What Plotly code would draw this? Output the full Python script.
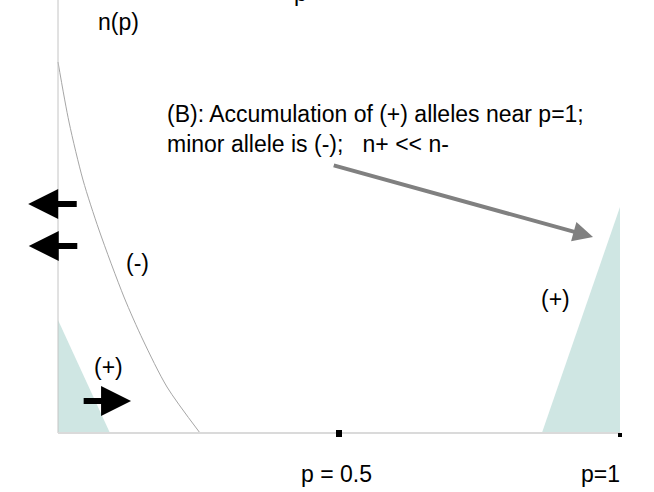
import plotly.graph_objects as go

# curve n(p) for the (-) allele
curve_p = [0.0, 0.0196, 0.0445, 0.073, 0.1174, 0.1512, 0.194, 0.2527]
curve_n = [3.71, 3.11, 2.53, 2.03, 1.36, 0.93, 0.46, 0.0]

# shaded (+) allele densities
left_p = [0.0, 0.0, 0.0925, 0.0]
left_n = [0.0, 1.13, 0.0, 0.0]
right_p = [0.861, 1.0, 1.0, 0.861]
right_n = [0.0, 2.26, 0.0, 0.0]

tick_p = [0.5, 1.0]
tick_labels = ["p = 0.5", "p=1"]

FONT = "Liberation Sans, Arial, sans-serif"
SHADE = "#cfe6e3"

fig = go.Figure()

fig.add_trace(go.Scatter(x=left_p, y=left_n, fill="toself", fillcolor=SHADE,
                         mode="lines", line=dict(width=0), hoverinfo="skip"))
fig.add_trace(go.Scatter(x=right_p, y=right_n, fill="toself", fillcolor=SHADE,
                         mode="lines", line=dict(width=0), hoverinfo="skip"))
fig.add_trace(go.Scatter(x=curve_p, y=curve_n, mode="lines",
                         line=dict(color="#a6a6a6", width=1, shape="spline", smoothing=0.8),
                         hoverinfo="skip"))

# axes drawn by hand
fig.add_shape(type="line", x0=0, x1=0, y0=0, y1=4.4, line=dict(color="#c4c4c4", width=1))
fig.add_shape(type="line", x0=0, x1=1, y0=0, y1=0, line=dict(color="#dadada", width=2))
fig.add_shape(type="rect", x0=0.4947, x1=0.5053, y0=-0.04, y1=0.03,
              fillcolor="black", line_width=0)
fig.add_shape(type="rect", x0=0.9964, x1=1.0036, y0=-0.04, y1=0.0,
              fillcolor="black", line_width=0)

ann = []
for p, lab, dx in zip(tick_p, tick_labels, [-0.005, -0.035]):
    ann.append(dict(x=p + dx, y=-0.41, text=lab, showarrow=False))

ann += [
    dict(x=0.107, y=4.11, text="n(p)", showarrow=False),
    # clipped text at the very top edge
    dict(x=0.4318, y=1.0, yref="paper", yanchor="middle", yshift=7, text="p",
         showarrow=False),
    dict(x=0.191, y=3.04, xanchor="left", align="left", showarrow=False,
         text="(B): Accumulation of (+) alleles near p=1;<br>minor allele is (-);   n+ << n-"),
    dict(x=0.142, y=1.70, text="(-)", showarrow=False),
    dict(x=0.089, y=0.66, text="(+)", showarrow=False),
    dict(x=0.886, y=1.34, text="(+)", showarrow=False),
]

arrows = [
    # (tip_p, tip_n, tail_p, tail_n, color, width)
    (0.952, 1.96, 0.488, 2.68, "#808080", 4),
    (-0.053, 2.29, 0.036, 2.29, "black", 6),
    (-0.052, 1.87, 0.037, 1.87, "black", 6),
    (0.130, 0.32, 0.043, 0.32, "black", 6),
]
for tp, tn, ap, an, col, w in arrows:
    ann.append(dict(x=tp, y=tn, ax=ap, ay=an, axref="x", ayref="y", xref="x", yref="y",
                    showarrow=True, arrowhead=2, arrowsize=1.0, arrowwidth=w,
                    arrowcolor=col, standoff=0, text=""))

fig.update_layout(
    width=654, height=492,
    margin=dict(l=0, r=0, t=0, b=0, pad=0),
    paper_bgcolor="white", plot_bgcolor="white",
    showlegend=False,
    font=dict(family=FONT, size=23, color="black"),
    xaxis=dict(range=[-0.1032, 1.0605], visible=False, fixedrange=True),
    yaxis=dict(range=[-0.59, 4.33], visible=False, fixedrange=True),
    annotations=ann,
)

fig.write_html("out.html", config={"displayModeBar": False},
               post_script="document.body.style.margin='0';")
